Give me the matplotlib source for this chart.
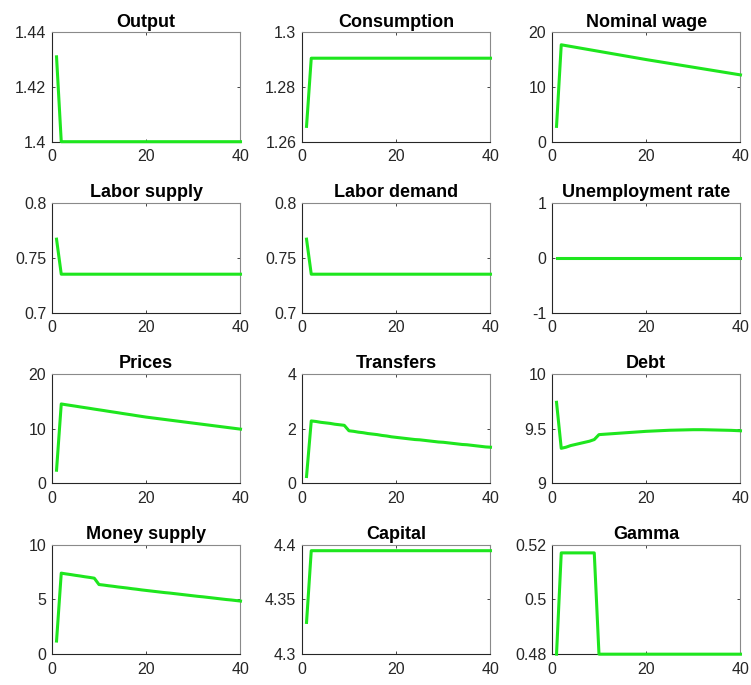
import numpy as np
import matplotlib
matplotlib.use("Agg")
import matplotlib.pyplot as plt

plt.rcParams['font.family'] = ['Liberation Sans', 'DejaVu Sans']

periods = np.arange(1, 41)

output = [1.431] + [1.400] * 39
consumption = [1.2656] + [1.2905] * 39
nominal_wage = [2.8, 17.70, 17.55, 17.40, 17.25, 17.10, 16.95, 16.80, 16.65, 16.50,
                16.35, 16.20, 16.05, 15.90, 15.75, 15.60, 15.45, 15.30, 15.15, 15.00,
                14.86, 14.72, 14.58, 14.44, 14.30, 14.16, 14.02, 13.88, 13.74, 13.60,
                13.46, 13.32, 13.18, 13.04, 12.90, 12.76, 12.62, 12.48, 12.34, 12.20]
labor_supply = [0.767] + [0.735] * 39
labor_demand = [0.767] + [0.735] * 39
unemployment = [0.0] * 40
prices = [2.4, 14.50, 14.36, 14.23, 14.10, 13.96, 13.83, 13.70, 13.56, 13.43,
          13.30, 13.16, 13.03, 12.90, 12.76, 12.63, 12.50, 12.36, 12.23, 12.10,
          11.99, 11.88, 11.77, 11.66, 11.55, 11.44, 11.33, 11.22, 11.11, 11.00,
          10.89, 10.78, 10.67, 10.56, 10.45, 10.34, 10.23, 10.12, 10.01, 9.90]
transfers = [0.25, 2.28, 2.26, 2.23, 2.21, 2.19, 2.16, 2.14, 2.12, 1.92,
             1.90, 1.87, 1.85, 1.82, 1.80, 1.78, 1.75, 1.73, 1.70, 1.68,
             1.66, 1.64, 1.62, 1.60, 1.59, 1.57, 1.55, 1.53, 1.51, 1.50,
             1.48, 1.46, 1.44, 1.42, 1.41, 1.39, 1.37, 1.35, 1.33, 1.32]
debt = [9.74, 9.32, 9.33, 9.345, 9.355, 9.365, 9.375, 9.385, 9.40, 9.445,
        9.448, 9.451, 9.454, 9.457, 9.460, 9.463, 9.466, 9.469, 9.472, 9.475,
        9.477, 9.479, 9.481, 9.483, 9.485, 9.486, 9.487, 9.488, 9.489, 9.490,
        9.490, 9.490, 9.489, 9.488, 9.487, 9.486, 9.485, 9.484, 9.482, 9.480]
money_supply = [1.2, 7.40, 7.33, 7.27, 7.20, 7.14, 7.07, 7.01, 6.94, 6.36,
                6.31, 6.25, 6.20, 6.14, 6.09, 6.04, 5.98, 5.93, 5.87, 5.82,
                5.77, 5.72, 5.67, 5.62, 5.58, 5.53, 5.48, 5.43, 5.38, 5.33,
                5.28, 5.24, 5.19, 5.14, 5.09, 5.04, 4.99, 4.95, 4.90, 4.85]
capital = [4.329] + [4.3945] * 39
gamma = [0.48] + [0.517] * 8 + [0.48] * 31

titles = ['Output', 'Consumption', 'Nominal wage',
          'Labor supply', 'Labor demand', 'Unemployment rate',
          'Prices', 'Transfers', 'Debt',
          'Money supply', 'Capital', 'Gamma']
series = [output, consumption, nominal_wage,
          labor_supply, labor_demand, unemployment,
          prices, transfers, debt,
          money_supply, capital, gamma]
ylims = [(1.4, 1.44), (1.26, 1.3), (0, 20),
         (0.7, 0.8), (0.7, 0.8), (-1, 1),
         (0, 20), (0, 4), (9, 10),
         (0, 10), (4.3, 4.4), (0.48, 0.52)]
yticklabels = [['1.4', '1.42', '1.44'], ['1.26', '1.28', '1.3'], ['0', '10', '20'],
               ['0.7', '0.75', '0.8'], ['0.7', '0.75', '0.8'], ['-1', '0', '1'],
               ['0', '10', '20'], ['0', '2', '4'], ['9', '9.5', '10'],
               ['0', '5', '10'], ['4.3', '4.35', '4.4'], ['0.48', '0.5', '0.52']]
xticks = [0, 20, 40]

fig, axes = plt.subplots(4, 3, figsize=(7.51, 6.85), dpi=100)
fig.subplots_adjust(left=0.069, right=0.986, top=0.953, bottom=0.045,
                    wspace=0.325, hspace=0.56)

for ax, title, y, lim, labels in zip(axes.flat, titles, series, ylims, yticklabels):
    ax.plot(periods, y, color='#1ee61e', lw=2.2, clip_on=False, zorder=3)
    ax.set_xlim(0, 40)
    ax.set_ylim(*lim)
    ax.set_xticks(xticks)
    ax.set_xticklabels([str(t) for t in xticks])
    ax.set_yticks([lim[0], (lim[0] + lim[1]) / 2, lim[1]])
    ax.set_yticklabels(labels)
    ax.set_title(title, fontsize=13, fontweight='bold', pad=4)
    ax.tick_params(direction='in', length=2.5, width=0.6, labelsize=11.5,
                   colors='#262626', top=True, right=True, pad=4)
    ax.tick_params(axis='x', pad=5.5)
    for side in ['left', 'bottom']:
        ax.spines[side].set_color('#262626')
        ax.spines[side].set_linewidth(0.8)
    for side in ['top', 'right']:
        ax.spines[side].set_color('#8a8a8a')
        ax.spines[side].set_linewidth(0.8)

fig.savefig('out.png', dpi=100)
